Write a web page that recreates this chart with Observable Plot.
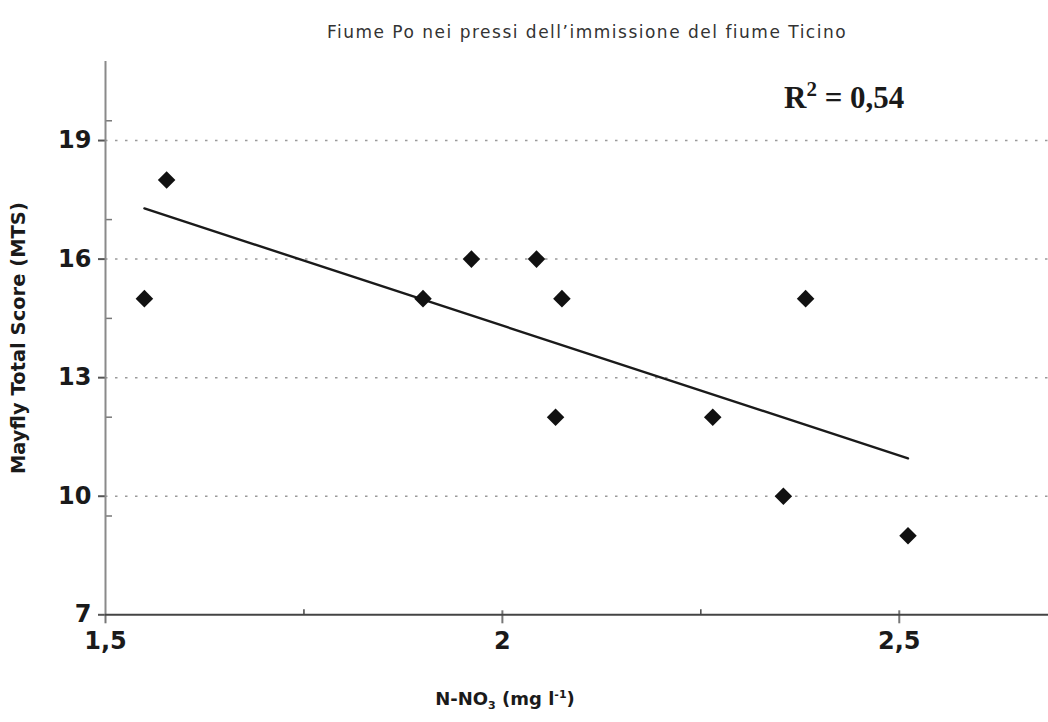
<!DOCTYPE html>
<html>
<head>
<meta charset="utf-8">
<script src="https://cdn.jsdelivr.net/npm/d3@7"></script>
<script src="https://cdn.jsdelivr.net/npm/@observablehq/plot@0.6"></script>
<style>
  body { margin: 0; background: #fff; }
  #wrap { position: relative; width: 1048px; height: 722px; font-family: "DejaVu Sans", "Liberation Sans", sans-serif; }
  #wrap svg { position: absolute; left: 0; top: 0; }
  #title { position: absolute; top: 22px; left: 587px; transform: translateX(-50%); white-space: nowrap;
           font-size: 17px; letter-spacing: 1.5px; color: #333; }
  #r2 { position: absolute; left: 784px; top: 80px; white-space: nowrap;
        font-family: "Liberation Serif", "Times New Roman", serif; font-weight: bold; font-size: 31px; color: #1a1a1a; }
  #r2 sup { font-size: 21px; vertical-align: 12px; line-height: 0; }
  #xlabel { position: absolute; top: 688px; left: 505px; transform: translateX(-50%); white-space: nowrap;
            font-weight: bold; font-size: 18px; color: #1a1a1a; }
  #xlabel sub { font-size: 11px; vertical-align: -4px; line-height: 0; }
  #xlabel sup { font-size: 11px; vertical-align: 7px; line-height: 0; }
</style>
</head>
<body>
<div id="wrap">
  <div id="title">Fiume Po nei pressi dell’immissione del fiume Ticino</div>
</div>
<script>
// Nitrate nitrogen (mg/l) and Mayfly Total Score for each sampling
const nitrate = [1.549, 1.577, 1.900, 1.961, 2.043, 2.075, 2.067, 2.265, 2.354, 2.382, 2.511];
const mts     = [15, 18, 15, 16, 16, 15, 12, 12, 10, 15, 9];

// Axis ticks
const xTicks = [1.5, 2, 2.5];
const xMinorTicks = [1.75, 2.25];
const yTicks = [7, 10, 13, 16, 19];
const yGridLines = [10, 13, 16, 19];
const yMinorTicks = [9.5, 12, 14.5, 17, 19.5];

const yLabel = "Mayfly Total Score (MTS)";

const points = nitrate.map((x, i) => ({x, y: mts[i]}));

// Coefficient of determination of the least-squares fit
const mx = d3.mean(nitrate), my = d3.mean(mts);
let sxy = 0, sxx = 0, syy = 0;
points.forEach(({x, y}) => { sxy += (x - mx) * (y - my); sxx += (x - mx) ** 2; syy += (y - my) ** 2; });
const r2 = (sxy * sxy) / (sxx * syy);

const comma = d => String(d).replace(".", ",");
const axisStyle = {fontSize: 24, fontWeight: "bold", fill: "#1a1a1a"};

const chart = Plot.plot({
  width: 1048,
  height: 722,
  marginTop: 61,
  marginBottom: 107.7,
  marginLeft: 105,
  marginRight: 0,
  style: {fontFamily: "'DejaVu Sans', 'Liberation Sans', sans-serif", background: "white", color: "#1a1a1a"},
  x: {domain: [1.5, 2.688]},
  y: {domain: [7, 21]},
  marks: [
    // dotted horizontal gridlines
    Plot.ruleY(yGridLines, {stroke: "#9a9a9a", strokeWidth: 1.5, strokeDasharray: "2.5,7.5"}),
    // y axis: major ticks outward, minor ticks inward
    Plot.axisY({ticks: yTicks, tickSize: 7, tickPadding: 7, stroke: "#555", strokeWidth: 2, ...axisStyle, label: null}),
    Plot.axisY({ticks: yMinorTicks, tickSize: -7, tickFormat: () => "", stroke: "#777", strokeWidth: 1.5, label: null}),
    // x axis: major ticks crossing the baseline, minor ticks inward
    Plot.axisX({ticks: xTicks, tickSize: 9, tickPadding: 8, tickFormat: comma, stroke: "#777", strokeWidth: 2, ...axisStyle, label: null}),
    Plot.axisX({ticks: xTicks.slice(1), tickSize: -4, tickFormat: () => "", stroke: "#777", strokeWidth: 2, label: null}),
    Plot.axisX({ticks: xMinorTicks, tickSize: -5, tickFormat: () => "", stroke: "#444", strokeWidth: 1.5, label: null}),
    // axis lines
    Plot.ruleX([1.5], {stroke: "#8a8a8a", strokeWidth: 2}),
    Plot.ruleY([7], {stroke: "#444", strokeWidth: 2}),
    // y axis title
    Plot.text([yLabel], {frameAnchor: "left", textAnchor: "middle", rotate: -90, dx: -87, fontSize: 19.5, fontWeight: "bold", fill: "#1a1a1a"}),
    // regression line and observations
    Plot.linearRegressionY(points, {x: "x", y: "y", ci: 0, stroke: "#1a1a1a", strokeWidth: 2.4}),
    Plot.dot(points, {x: "x", y: "y", symbol: "diamond2", r: 7.9, fill: "#111", stroke: "none"})
  ]
});

const wrap = document.getElementById("wrap");
wrap.prepend(chart);

const r2Div = document.createElement("div");
r2Div.id = "r2";
r2Div.innerHTML = `R<sup>2</sup> = ${comma(r2.toFixed(2))}`;
wrap.appendChild(r2Div);

const xl = document.createElement("div");
xl.id = "xlabel";
xl.innerHTML = "N-NO<sub>3</sub> (mg l<sup>-1</sup>)";
wrap.appendChild(xl);
</script>
</body>
</html>
